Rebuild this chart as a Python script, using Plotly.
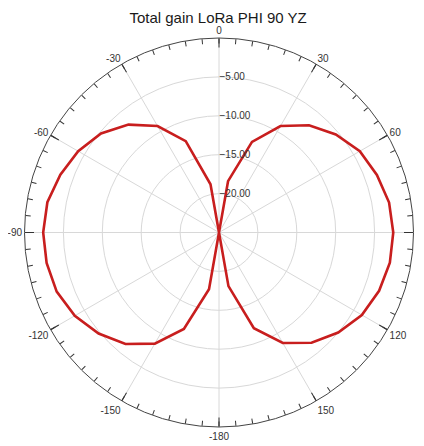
import plotly.graph_objects as go

# Gain (dB) vs angle (deg)
theta_deg = [0, 10, 20, 30, 40, 50, 60, 70, 80, 90, 100, 110, 120, 130, 140, 150, 160, 170,
             180, 190, 200, 210, 220, 230, 240, 250, 260, 270, 280, 290, 300, 310, 320, 330, 340, 350, 360]
gain_db = [-25.0, -18.3, -12.6, -9.2, -7.0, -5.4, -4.1, -3.4, -2.8, -2.6, -2.7, -3.1, -3.8, -5.0, -6.5, -8.6, -11.9, -18.0,
           -25.0, -17.6, -11.8, -8.5, -6.3, -4.8, -3.6, -2.8, -2.5, -2.4, -2.6, -3.3, -4.1, -5.2, -6.9, -9.2, -12.5, -18.7, -25.0]

angle_tickvals = [0, 30, 60, 90, 120, 150, 180, 210, 240, 270, 300, 330]
angle_ticktext = ["0", "30", "60", "90", "120", "150", "-180", "-150", "-120", "-90", "-60", "-30"]
radial_tickvals = [-20, -15, -10, -5]
radial_range = [-25, 0]

FONT = "Liberation Sans, Arial, sans-serif"

fig = go.Figure()
fig.add_trace(go.Scatterpolar(
    r=gain_db, theta=theta_deg, mode="lines",
    line=dict(color="#c81e1e", width=2.6),
    showlegend=False, hoverinfo="skip", subplot="polar"))
fig.add_trace(go.Scatterpolar(r=[], theta=[], subplot="polar2", showlegend=False))

common_angular = dict(direction="clockwise", rotation=90, thetaunit="degrees")

# page body has an 8px margin, so the figure is sized/offset to compensate
fig.update_layout(
    width=416, height=438,
    margin=dict(l=16, r=10, t=29.5, b=18.5),
    paper_bgcolor="white",
    title=dict(text="Total gain LoRa PHI 90 YZ", x=0.505, xanchor="center", y=0.978, yanchor="middle",
               font=dict(family=FONT, size=15, color="#1a1a1a")),
    polar=dict(
        domain=dict(x=[0, 1], y=[0, 1]),
        bgcolor="white",
        angularaxis=dict(
            **common_angular,
            tickmode="array", tickvals=angle_tickvals, ticktext=angle_ticktext,
            ticks="inside", ticklen=9, tickcolor="#333", tickwidth=1,
            showline=True, linecolor="#444", linewidth=1,
            showgrid=True, gridcolor="#d8d8d8", gridwidth=1,
            tickfont=dict(family=FONT, size=10, color="#333"),
        ),
        radialaxis=dict(
            range=radial_range, angle=90, side="clockwise", tickangle=90,
            tickmode="array", tickvals=radial_tickvals, tickformat=".2f",
            showline=False, ticks="", showgrid=True, gridcolor="#d8d8d8", gridwidth=1,
            tickfont=dict(family=FONT, size=10, color="#333"),
        ),
    ),
    polar2=dict(
        domain=dict(x=[0, 1], y=[0, 1]),
        bgcolor="rgba(0,0,0,0)",
        angularaxis=dict(
            **common_angular,
            tickmode="linear", tick0=0, dtick=5,
            ticks="inside", ticklen=5, tickcolor="#333", tickwidth=1,
            showticklabels=False, showline=False, showgrid=False,
        ),
        radialaxis=dict(visible=False, range=radial_range),
    ),
)

fig.write_html("out.html")
